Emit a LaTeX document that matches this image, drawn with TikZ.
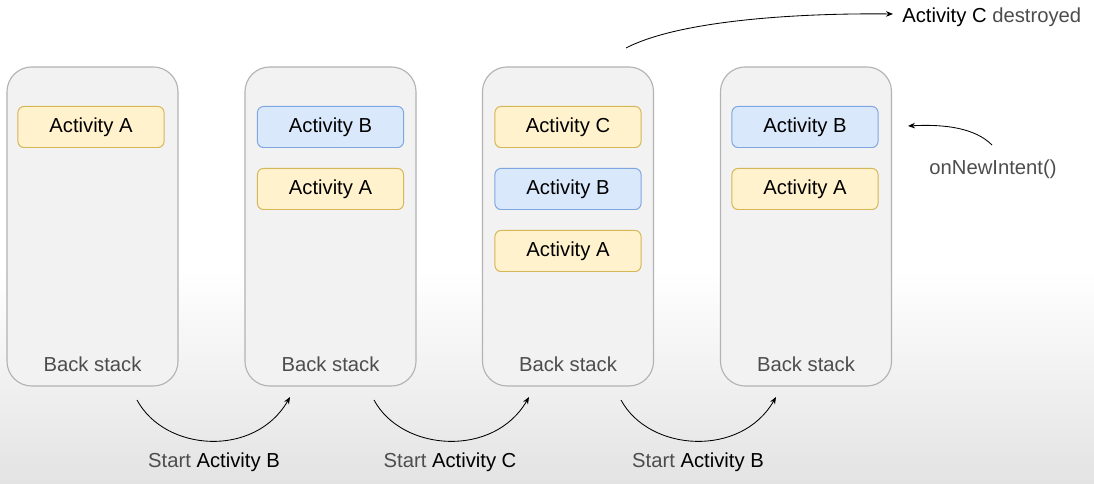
\documentclass[tikz,border=0pt]{standalone}
\usepackage{fontspec}
\setmainfont{Liberation Sans}
\usetikzlibrary{arrows.meta, positioning}

\definecolor{gialloF}{HTML}{FFF2CC}
\definecolor{gialloB}{HTML}{D6B656}
\definecolor{bluF}{HTML}{DAE8FC}
\definecolor{bluB}{HTML}{7EA6E0}
\definecolor{pilaF}{HTML}{F2F2F2}
\definecolor{pilaB}{HTML}{B3B3B3}
\definecolor{testoG}{HTML}{4D4D4D}

\begin{document}
\begin{tikzpicture}[
  x=0.025cm, y=-0.025cm,
  font=\fontsize{14.4}{17}\selectfont,
  pila/.style={draw=pilaB, fill=pilaF, line width=0.8pt, rounded corners=0.62cm,
               minimum width=4.275cm, minimum height=7.975cm, inner sep=0pt},
  attA/.style={draw=gialloB, fill=gialloF, line width=0.7pt, rounded corners=0.15cm,
               minimum width=3.65cm, minimum height=1.025cm, inner sep=0pt},
  attB/.style={attA, draw=bluB, fill=bluF},
  etich/.style={text=testoG, inner sep=1pt},
  freccia/.style={draw=black, line width=0.6pt, -{Stealth[length=5pt,width=4pt]}}
]

%--------------------------------------------------------------
% Sfondo
%--------------------------------------------------------------
\useasboundingbox (0,0) rectangle (1094,484);
\fill[white] (0,0) rectangle (1094,484);
\shade[top color=white, bottom color=black!11] (0,270) rectangle (1094,484);

%--------------------------------------------------------------
% Le quattro back stack
%--------------------------------------------------------------
\foreach \n/\x in {1/92.5, 2/330.5, 3/568, 4/806}{
  \node[pila] (pila\n) at (\x,226.5) {};
  \node[etich] (nome\n) at (\x,364) {Back stack};
}

%--------------------------------------------------------------
% Attivita' nelle pile
%--------------------------------------------------------------
\foreach \nome/\stile/\x/\y/\testo in {%
  a1/attA/91/127/{Activity A},
  b2/attB/330.5/127/{Activity B},
  a2/attA/330.5/189/{Activity A},
  c3/attA/568/127/{Activity C},
  b3/attB/568/189/{Activity B},
  a3/attA/568/251/{Activity A},
  b4/attB/805/127/{Activity B},
  a4/attA/805/189/{Activity A}}{
  \node[\stile] (\nome) at (\x,\y) {\testo};
}

%--------------------------------------------------------------
% Passaggi tra le pile
%--------------------------------------------------------------
\coordinate (da1) at (137,400);  \coordinate (a2p) at (290,397);
\coordinate (da2) at (374,400);  \coordinate (a3p) at (529,397);
\coordinate (da3) at (621,400);  \coordinate (a4p) at (776,397);

\draw[freccia] (da1) .. controls (165,452) and (255,458) .. (a2p);
\draw[freccia] (da2) .. controls (402,452) and (494,458) .. (a3p);
\draw[freccia] (da3) .. controls (649,452) and (741,458) .. (a4p);

\node (passo1) at (214,462) {\textcolor{testoG}{Start} Activity B};
\node (passo2) at (450,462) {\textcolor{testoG}{Start} Activity C};
\node (passo3) at (698,462) {\textcolor{testoG}{Start} Activity B};

%--------------------------------------------------------------
% Activity C distrutta e onNewIntent()
%--------------------------------------------------------------
\coordinate (cima3) at (626,48);
\node[anchor=west, inner sep=0pt] (distrutta) at (902,17)
  {Activity C \textcolor{testoG}{destroyed}};
\coordinate (versoC) at (893,14);
\draw[freccia] (cima3) .. controls (680,20) and (800,13) .. (versoC);

\node[etich] (intento) at (993,169) {onNewIntent()};
\coordinate (daintento) at (992,145);
\coordinate (verso4) at (908,126);
\draw[freccia] (daintento) .. controls (975,128) and (945,124) .. (verso4);

\end{tikzpicture}
\end{document}
